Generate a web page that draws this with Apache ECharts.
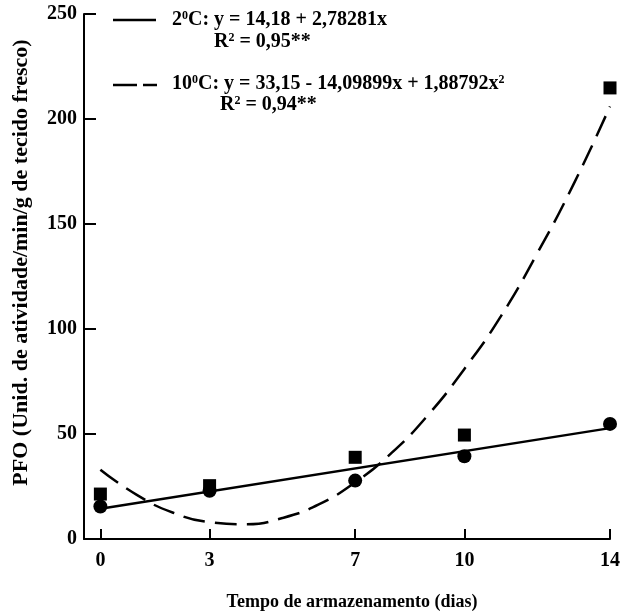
<!DOCTYPE html>
<html>
<head>
<meta charset="utf-8">
<script src="https://cdn.jsdelivr.net/npm/echarts@6/dist/echarts.min.js"></script>
<style>
  html, body { margin: 0; padding: 0; background: #fff; }
  #chart { width: 620px; height: 612px; }
</style>
</head>
<body>
<div id="chart"></div>
<script>
// dias de armazenamento
const days = [0, 3, 7, 10, 14]
const xTicks = [0, 3, 7, 10, 14]
const yTicks = [0, 50, 100, 150, 200, 250]

const pfo2C = [15.5, 23, 27.8, 39.4, 54.8]
const pfo10C = [21.4, 25.4, 38.9, 49.5, 214.8]

// retas/curvas ajustadas
const fit2CDays = [0, 14]
const fit2CValues = [14.4, 52.8]
const fit10CDays = [0, 1, 2, 3, 4, 5, 6, 7, 8, 9, 10, 11, 12, 13, 14]
const fit10CValues = [33, 21, 12.5, 8, 7, 10, 16.5, 27, 41, 59, 81, 106, 136, 169, 206]

const font = '"Liberation Serif", "Times New Roman", serif'

const pairs = (xs, ys) => xs.map((x, i) => [x, ys[i]])

let myChart = echarts.init(document.getElementById('chart'), null, { renderer: 'canvas' })

const rich = {
  n: { fontFamily: font, fontWeight: 'bold', fontSize: 20, color: '#000' },
  s: { fontFamily: font, fontWeight: 'bold', fontSize: 12, color: '#000', padding: [0, 0, 9, 0] }
}

let option = {
  backgroundColor: '#fff',
  animation: false,
  grid: {
    left: 84,
    right: 10,
    top: 14,
    bottom: 73,
    outerBoundsMode: 'none'
  },
  xAxis: {
    type: 'value',
    min: -0.45,
    max: 14,
    name: 'Tempo de armazenamento (dias)',
    nameLocation: 'middle',
    nameGap: 54,
    nameTextStyle: { fontFamily: font, fontWeight: 'bold', fontSize: 18, color: '#000', padding: [0, 0, 0, 10] },
    axisLine: { onZero: false, lineStyle: { color: '#000', width: 2 } },
    axisTick: { inside: true, length: 10, customValues: xTicks, lineStyle: { color: '#000', width: 2 } },
    axisLabel: { customValues: xTicks, margin: 12, fontFamily: font, fontWeight: 'bold', fontSize: 20, color: '#000' },
    splitLine: { show: false }
  },
  yAxis: {
    type: 'value',
    min: 0,
    max: 250,
    interval: 50,
    name: 'PFO (Unid. de atividade/min/g de tecido fresco)',
    nameLocation: 'middle',
    nameGap: 52,
    nameTextStyle: { fontFamily: font, fontWeight: 'bold', fontSize: 22, color: '#000', padding: [0, 0, 0, 28] },
    axisLine: { onZero: false, lineStyle: { color: '#000', width: 2 } },
    axisTick: { inside: true, length: 12, customValues: yTicks, lineStyle: { color: '#000', width: 2 } },
    axisLabel: { customValues: yTicks, margin: 7, fontFamily: font, fontWeight: 'bold', fontSize: 20, color: '#000' },
    splitLine: { show: false }
  },
  series: [
    {
      name: '10°C ajuste',
      type: 'line',
      data: pairs(fit10CDays, fit10CValues),
      smooth: true,
      showSymbol: false,
      clip: false,
      lineStyle: { color: '#000', width: 2.5, type: [22, 10] },
      z: 2
    },
    {
      name: '2°C ajuste',
      type: 'line',
      data: pairs(fit2CDays, fit2CValues),
      showSymbol: false,
      lineStyle: { color: '#000', width: 2.5 },
      z: 2
    },
    {
      name: '2°C',
      type: 'scatter',
      data: pairs(days, pfo2C),
      symbol: 'circle',
      symbolSize: 14,
      itemStyle: { color: '#000', opacity: 1 },
      z: 3
    },
    {
      name: '10°C',
      type: 'scatter',
      data: pairs(days, pfo10C),
      symbol: 'rect',
      symbolSize: 13,
      itemStyle: { color: '#000', opacity: 1 },
      z: 4
    }
  ],
  graphic: [
    { type: 'line', shape: { x1: 113, y1: 20, x2: 156, y2: 20 }, style: { stroke: '#000', lineWidth: 2.5 } },
    { type: 'text', x: 172, y: 20, style: { text: '{n|2}{s|0}{n|C: y = 14,18 + 2,78281x}', rich: rich, verticalAlign: 'middle' } },
    { type: 'text', x: 214, y: 42, style: { text: '{n|R}{s|2}{n| = 0,95**}', rich: rich, verticalAlign: 'middle' } },
    { type: 'line', shape: { x1: 113, y1: 85, x2: 137, y2: 85 }, style: { stroke: '#000', lineWidth: 2.5 } },
    { type: 'line', shape: { x1: 143, y1: 85, x2: 157, y2: 85 }, style: { stroke: '#000', lineWidth: 2.5 } },
    { type: 'text', x: 172, y: 84, style: { text: '{n|10}{s|0}{n|C: y = 33,15 - 14,09899x + 1,88792x}{s|2}', rich: rich, verticalAlign: 'middle' } },
    { type: 'text', x: 220, y: 105, style: { text: '{n|R}{s|2}{n| = 0,94**}', rich: rich, verticalAlign: 'middle' } }
  ]
}

myChart.setOption(option)
</script>
</body>
</html>
